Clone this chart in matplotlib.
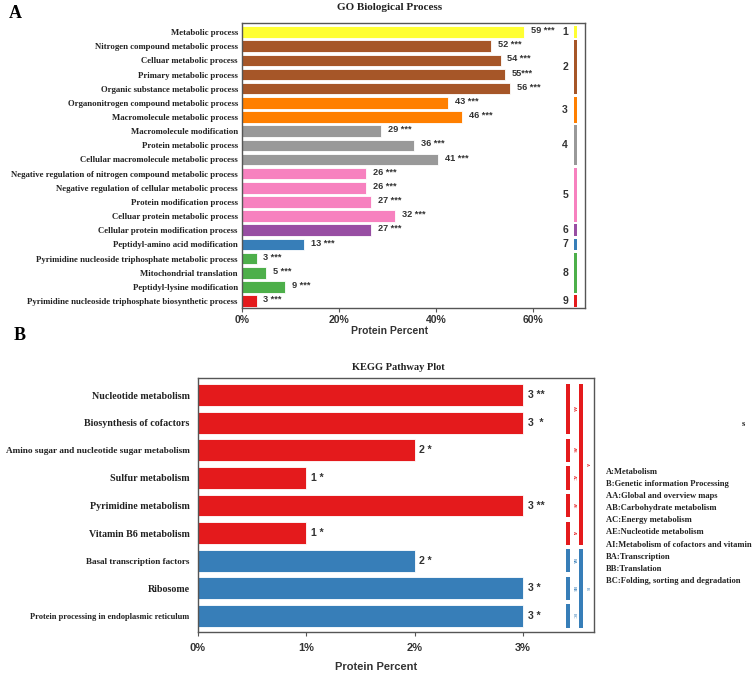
import matplotlib.pyplot as plt
import numpy as np

# GO panel data
go_terms = ["Metabolic process", "Nitrogen compound metabolic process", "Celluar metabolic process",
            "Primary metabolic process", "Organic substance metabolic process",
            "Organonitrogen compound metabolic process", "Macromolecule metabolic process",
            "Macromolecule modification", "Protein metabolic process",
            "Cellular macromolecule metabolic process",
            "Negative regulation of nitrogen compound metabolic process",
            "Negative regulation of cellular metabolic process", "Protein modification process",
            "Celluar protein metabolic process", "Cellular protein modification process",
            "Peptidyl-amino acid modification", "Pyrimidine nucleoside triphosphate metabolic process",
            "Mitochondrial translation", "Peptidyl-lysine modification",
            "Pyrimidine nucleoside triphosphate biosynthetic process"]
go_percent = [58.1, 51.3, 53.3, 54.2, 55.2, 42.4, 45.4, 28.6, 35.5, 40.4,
              25.6, 25.6, 26.6, 31.5, 26.6, 12.8, 3.0, 4.9, 8.9, 3.0]
go_counts = [59, 52, 54, 55, 56, 43, 46, 29, 36, 41, 26, 26, 27, 32, 27, 13, 3, 5, 9, 3]
go_stars = [" ***", " ***", " ***", "***", " ***", " ***", " ***", " ***", " ***", " ***",
            " ***", " ***", " ***", " ***", " ***", " ***", " ***", " ***", " ***", " ***"]
go_group = [1, 2, 2, 2, 2, 3, 3, 4, 4, 4, 5, 5, 5, 5, 6, 7, 8, 8, 8, 9]
group_colors = {1: "#FFFF33", 2: "#A65628", 3: "#FF7F00", 4: "#999999", 5: "#F781BF",
                6: "#984EA3", 7: "#377EB8", 8: "#4DAF4A", 9: "#E41A1C"}

# KEGG panel data
kegg_terms = ["Nucleotide metabolism", "Biosynthesis of cofactors",
              "Amino sugar and nucleotide sugar metabolism", "Sulfur metabolism",
              "Pyrimidine metabolism", "Vitamin B6 metabolism", "Basal transcription factors",
              "Ribosome", "Protein processing in endoplasmic reticulum"]
kegg_percent = [3.0, 3.0, 2.0, 1.0, 3.0, 1.0, 2.0, 3.0, 3.0]
kegg_counts = [3, 3, 2, 1, 3, 1, 2, 3, 3]
kegg_stars = [" **", "  *", " *", " *", " **", " *", " *", " *", " *"]
kegg_class = ["A", "A", "A", "A", "A", "A", "B", "B", "B"]
kegg_sub = ["AA", "AA", "AB", "AC", "AE", "AI", "BA", "BB", "BC"]
kegg_label_size = [7.2, 7.2, 6.7, 7.2, 7.2, 7.2, 6.6, 7.2, 6.0]
class_colors = {"A": "#E41A1C", "B": "#377EB8"}
legend_lines = ["A:Metabolism", "B:Genetic information Processing", "AA:Global and overview maps",
                "AB:Carbohydrate metabolism", "AC:Energy metabolism", "AE:Nucleotide metabolism",
                "AI:Metabolism of cofactors and vitamin", "BA:Transcription", "BB:Translation",
                "BC:Folding, sorting and degradation"]

serif = "Liberation Serif"
sans = "Liberation Sans"

fig = plt.figure(figsize=(7.53, 6.74), dpi=100)


def spans(keys):
    # consecutive runs of the same key -> (key, first, last)
    out = []
    start = 0
    for i in range(1, len(keys) + 1):
        if i == len(keys) or keys[i] != keys[start]:
            out.append((keys[start], start, i - 1))
            start = i
    return out


def style_axis(ax):
    for s in ax.spines.values():
        s.set_color("#555555")
        s.set_linewidth(1.0)
    ax.tick_params(axis="y", length=0, pad=3)
    ax.tick_params(axis="x", length=3, color="#555555", labelsize=7.5, pad=2)
    for lab in ax.get_xticklabels():
        lab.set_fontfamily(sans)
        lab.set_fontweight("bold")
        lab.set_color("#333333")


# ---- A: GO ----
axA = fig.add_axes([0.3214, 0.5430, 0.4555, 0.4229])
y = np.arange(len(go_terms))
colA = [group_colors[g] for g in go_group]
axA.barh(y, go_percent, height=0.82, color=colA, edgecolor="white", linewidth=0.6)
for yi, p, c, s in zip(y, go_percent, go_counts, go_stars):
    axA.text(p + 1.4, yi - 0.1, f"{c}{s}", va="center", ha="left", fontsize=6.6,
             fontfamily=sans, fontweight="bold", color="#333333")
for g, a, b in spans(go_group):
    axA.bar(68.7, (b - a) + 0.82, bottom=a - 0.41, width=0.72, color=group_colors[g])
    axA.text(66.6, (a + b) / 2, str(g), ha="center", va="center", fontsize=7.5,
             fontfamily=sans, fontweight="bold", color="#333333")
axA.set_xlim(0, 70.7)
axA.set_ylim(19.49, -0.64)
axA.set_yticks(y)
axA.set_yticklabels(go_terms, fontfamily=serif, fontweight="bold", fontsize=6.3, color="#222222")
axA.set_xticks([0, 20, 40, 60])
axA.set_xticklabels(["0%", "20%", "40%", "60%"])
style_axis(axA)
fig.text(390 / 753, 1 - 331 / 674, "Protein Percent", ha="center", va="center", fontsize=7.5,
         fontfamily=sans, fontweight="bold", color="#333333")
fig.text(390 / 753, 1 - 8 / 674, "GO Biological Process", ha="center", va="center", fontsize=8,
         fontfamily=serif, fontweight="bold", color="#222222")
fig.text(15 / 753, 1 - 13 / 674, "A", ha="center", va="center", fontsize=13,
         fontfamily=serif, fontweight="bold")

# ---- B: KEGG ----
axB = fig.add_axes([0.2629, 0.0623, 0.5259, 0.3769])
yk = np.arange(len(kegg_terms))
colB = [class_colors[c] for c in kegg_class]
axB.barh(yk, kegg_percent, height=0.79, color=colB, edgecolor="white", linewidth=0.6)
for yi, p, c, s in zip(yk, kegg_percent, kegg_counts, kegg_stars):
    axB.text(p + 0.045, yi, f"{c}{s}", va="center", ha="left", fontsize=7.6,
             fontfamily=sans, fontweight="bold", color="#333333")
for k, a, b in spans(kegg_sub):
    axB.bar(3.416, (b - a) + 0.84, bottom=a - 0.42, width=0.037, color=class_colors[k[0]])
    axB.text(3.472, (a + b) / 2, k, ha="center", va="center", rotation=270, fontsize=3,
             color=class_colors[k[0]])
for k, a, b in spans(kegg_class):
    axB.bar(3.537, (b - a) + 0.84, bottom=a - 0.42, width=0.037, color=class_colors[k])
    axB.text(3.593, (a + b) / 2, k, ha="center", va="center", rotation=270, fontsize=3,
             color=class_colors[k])
axB.set_xlim(0, 3.657)
axB.set_ylim(8.58, -0.62)
axB.set_yticks(yk)
axB.set_yticklabels(kegg_terms, fontfamily=serif, fontweight="bold", color="#222222")
for lab, fs in zip(axB.get_yticklabels(), kegg_label_size):
    lab.set_fontsize(fs)
axB.set_xticks([0, 1, 2, 3])
axB.set_xticklabels(["0%", "1%", "2%", "3%"])
style_axis(axB)
axB.tick_params(axis="y", pad=6)
axB.tick_params(axis="x", labelsize=8, pad=5)
fig.text(376 / 753, 1 - 667 / 674, "Protein Percent", ha="center", va="center", fontsize=8,
         fontfamily=sans, fontweight="bold", color="#333333")
fig.text(398 / 753, 1 - 367 / 674, "KEGG Pathway Plot", ha="center", va="center", fontsize=7.5,
         fontfamily=serif, fontweight="bold", color="#222222")
fig.text(20 / 753, 1 - 336 / 674, "B", ha="center", va="center", fontsize=13,
         fontfamily=serif, fontweight="bold")

for i, line in enumerate(legend_lines):
    fig.text(606 / 753, 1 - (472 + i * 12.1) / 674, line, ha="left", va="center", fontsize=6.1,
             fontfamily=serif, fontweight="bold", color="#222222")
fig.text(743 / 753, 1 - 424 / 674, "s", ha="center", va="center", fontsize=6,
         fontfamily=serif, fontweight="bold", color="#222222")

fig.savefig("out.png", dpi=100)
